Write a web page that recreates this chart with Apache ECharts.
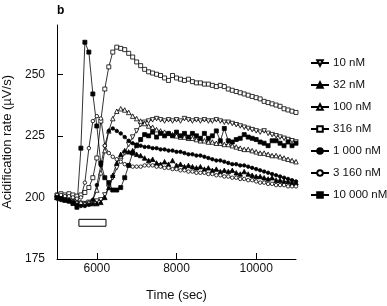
<!DOCTYPE html>
<html>
<head>
<meta charset="utf-8">
<script src="https://cdn.jsdelivr.net/npm/echarts@6/dist/echarts.min.js"></script>
<style>
  html, body { margin: 0; padding: 0; background: #fff; }
  #chart { width: 387px; height: 306px; }
</style>
</head>
<body>
<div id="chart"></div>
<script>
// sample times (sec)
const times = [
  5000, 5100, 5200, 5300, 5400, 5500, 5600, 5700, 5800, 5900,
  6000, 6100, 6200, 6300, 6400, 6500, 6600, 6700, 6800, 6900,
  7000, 7100, 7200, 7300, 7400, 7500, 7600, 7700, 7800, 7900,
  8000, 8100, 8200, 8300, 8400, 8500, 8600, 8700, 8800, 8900,
  9000, 9100, 9200, 9300, 9400, 9500, 9600, 9700, 9800, 9900,
  10000, 10100, 10200, 10300, 10400, 10500, 10600, 10700, 10800, 10900,
  11000
];

const conc10 = [
  199.5, 199, 199, 198.5, 198.5, 198, 197.5, 197.5, 198, 198,
  198.5, 199, 201, 204, 208, 212, 215, 218, 221.5, 224.5,
  227, 229.5, 230.5, 231, 231.5, 232, 231.5, 231, 231.5, 231,
  231.5, 231, 232, 231.5, 231, 231.5, 231, 231.5, 231, 231,
  231.5, 231, 230.5, 230.5, 230, 229.5, 229, 228.5, 228, 227.5,
  227, 226.5, 227, 226, 225.5, 225, 224.5, 224, 223.5, 223,
  222.5
];
const conc32 = [
  200, 199.5, 199, 199, 198.5, 198, 197.5, 197.5, 197.5, 197.5,
  197.5, 198, 200, 204, 209, 214, 217.5, 219, 218.5, 219,
  217.5, 217, 216, 215, 215.5, 214, 213.5, 214.5, 213.5, 215,
  213, 213.5, 212.5, 213, 212.5, 212, 212.5, 211.5, 212, 211,
  211.5, 210.5, 211, 210.5, 211, 210, 209.5, 210.5, 209.5, 209,
  208.5, 208.5, 208, 207.5, 208, 207, 207, 206.5, 206.5, 206,
  206
];
const conc100 = [
  200, 199.5, 199, 199, 198.5, 198, 198, 197.5, 198, 199,
  203, 210, 219, 227, 232, 235, 236, 235.5, 234.5, 233,
  232, 231, 230, 229, 228.5, 227.5, 227, 226.5, 226, 225.5,
  225, 224.5, 224.5, 224, 224, 223.5, 223, 223, 222.5, 222.5,
  222, 222, 221.5, 221.5, 221, 220.5, 220, 219.5, 219.5, 219,
  218.5, 218, 218, 217.5, 217, 217, 216.5, 216, 215.5, 215,
  214.5
];
const conc316 = [
  201, 201.5, 201, 201.5, 201, 200.5, 201, 202, 204, 208,
  216, 231, 244, 253, 259, 261, 260.5, 260, 258.5, 257,
  255, 253.5, 252, 251, 250.5, 250, 249.5, 248.5, 247.5, 249.5,
  248.5, 248, 247.5, 248, 247, 246.5, 246.5, 246, 246, 245.5,
  245, 245.5, 245, 244, 243.5, 243, 242.5, 242, 241.5, 241,
  240.5, 240, 239, 238.5, 238, 237.5, 237, 236, 235.5, 235,
  234.5
];
const conc1000 = [
  200, 199.5, 199, 198.5, 198, 197, 196.5, 196.5, 197, 199,
  205, 213, 221, 227, 228, 227, 226, 224.5, 223, 222,
  221.5, 221, 220.5, 220.5, 220, 220, 219.5, 219.5, 219, 219,
  218.5, 218.5, 218, 217.5, 217.5, 217, 217, 216.5, 216, 215.5,
  215, 215, 214.5, 214, 213.5, 213.5, 213, 213, 212.5, 212,
  211.5, 211, 210.5, 210, 209.5, 209, 208.5, 208, 207.5, 207,
  206.5
];
const conc3160 = [
  201, 201, 200.5, 200.5, 200, 199.5, 200, 206, 220, 231,
  233, 232, 221, 218, 216.5, 215.5, 214.5, 213.5, 213, 212.5,
  212.5, 212.5, 213, 213, 213, 212.5, 212.5, 212, 212, 211.5,
  211.5, 211, 211, 210.5, 210.5, 210, 210, 210, 209.5, 209.5,
  209, 209, 208.5, 208.5, 208, 208, 207.5, 207.5, 207, 207,
  206.5, 206, 206, 205.5, 205.5, 205, 205, 205, 204.5, 204.5,
  204.5
];
const conc10000 = [
  200, 199.5, 199, 198.5, 197.5, 196, 220, 263, 259, 242,
  229, 214, 208, 206, 203, 203, 204, 208, 213, 218,
  221, 223.5, 225.5, 225, 226.5, 224.5, 226, 225, 226, 225,
  226.5, 225, 226, 224.5, 226, 225, 224, 226, 224, 225,
  227, 223, 228, 223, 222.5, 223.5, 224, 225.5, 224.5, 224,
  223.5, 222.5, 222, 221, 223, 223, 222, 221, 222.5, 221,
  222
];

const seriesNames = ["10 nM", "32 nM", "100 nM", "316 nM", "1 000 nM", "3 160 nM", "10 000 nM"];
const xTicks = [6000, 8000, 10000];
const yTicks = [175, 200, 225, 250];
// stimulus bar: start, end (sec), bottom, top
const stimBar = [5550, 6230, 188.3, 191.1];

const chart = echarts.init(document.getElementById("chart"));

function pairs(vals) {
  return vals.map((v, i) => [times[i], v]);
}

function mkSeries(name, vals, symbol, filled, size, rotate) {
  return {
    name: name,
    type: "line",
    data: pairs(vals),
    symbol: symbol,
    symbolSize: size,
    symbolRotate: rotate || 0,
    showAllSymbol: true,
    lineStyle: { color: "#000", width: 0.8 },
    itemStyle: {
      color: filled ? "#000" : "#fff",
      borderColor: "#000",
      borderWidth: 0.8,
    },
    emphasis: { disabled: true },
    animation: false,
  };
}

const series = [
  mkSeries(seriesNames[0], conc10, "triangle", false, 4.5, 180),
  mkSeries(seriesNames[1], conc32, "triangle", true, 4.5),
  mkSeries(seriesNames[2], conc100, "triangle", false, 4.5),
  mkSeries(seriesNames[3], conc316, "rect", false, 4),
  mkSeries(seriesNames[4], conc1000, "circle", true, 3.5),
  mkSeries(seriesNames[5], conc3160, "circle", false, 3.5),
  mkSeries(seriesNames[6], conc10000, "rect", true, 4),
];

series[0].markArea = {
  silent: true,
  label: { show: false },
  itemStyle: { color: "#fff", borderColor: "#000", borderWidth: 1 },
  data: [[
    { xAxis: stimBar[0], yAxis: stimBar[2] },
    { xAxis: stimBar[1], yAxis: stimBar[3] },
  ]],
};

const font = "'Liberation Sans', Arial, sans-serif";

const option = {
  backgroundColor: "#fff",
  animation: false,
  title: {
    text: "b",
    left: 52,
    top: 0,
    textStyle: { fontFamily: font, fontSize: 12, fontWeight: "bold", color: "#000" },
  },
  grid: { left: 57, right: 91, top: 25, bottom: 47, containLabel: false, outerBoundsMode: "none" },
  legend: {
    orient: "vertical",
    left: 305,
    top: 52,
    itemWidth: 18,
    itemHeight: 7,
    itemGap: 10,
    data: seriesNames,
    textStyle: { fontFamily: font, fontSize: 11.5, color: "#111", padding: [0, 0, 0, -1] },
  },
  xAxis: {
    type: "value",
    min: 5000,
    max: 11000,
    name: "Time (sec)",
    nameLocation: "middle",
    nameGap: 30,
    nameTextStyle: { fontFamily: font, fontSize: 13, color: "#111" },
    axisLine: { show: true, lineStyle: { color: "#000", width: 1 } },
    axisTick: { inside: true, length: 6, customValues: xTicks, lineStyle: { color: "#000" } },
    axisLabel: {
      customValues: xTicks,
      margin: 4,
      fontFamily: font,
      fontSize: 12,
      color: "#111",
      formatter: (v) => String(v),
    },
    splitLine: { show: false },
  },
  yAxis: {
    type: "value",
    min: 175,
    max: 270,
    name: "Acidification rate (\u00b5V/s)",
    nameLocation: "middle",
    nameGap: 34,
    nameTextStyle: { fontFamily: font, fontSize: 13, color: "#111" },
    axisLine: { show: true, lineStyle: { color: "#000", width: 1 } },
    axisTick: { inside: true, length: 6, customValues: yTicks, lineStyle: { color: "#000" } },
    axisLabel: { customValues: yTicks, margin: 12, fontFamily: font, fontSize: 12, color: "#111" },
    splitLine: { show: false },
  },
  series: series,
};

chart.setOption(option);
window.onresize = function () {
  chart.resize();
};
</script>
</body>
</html>
